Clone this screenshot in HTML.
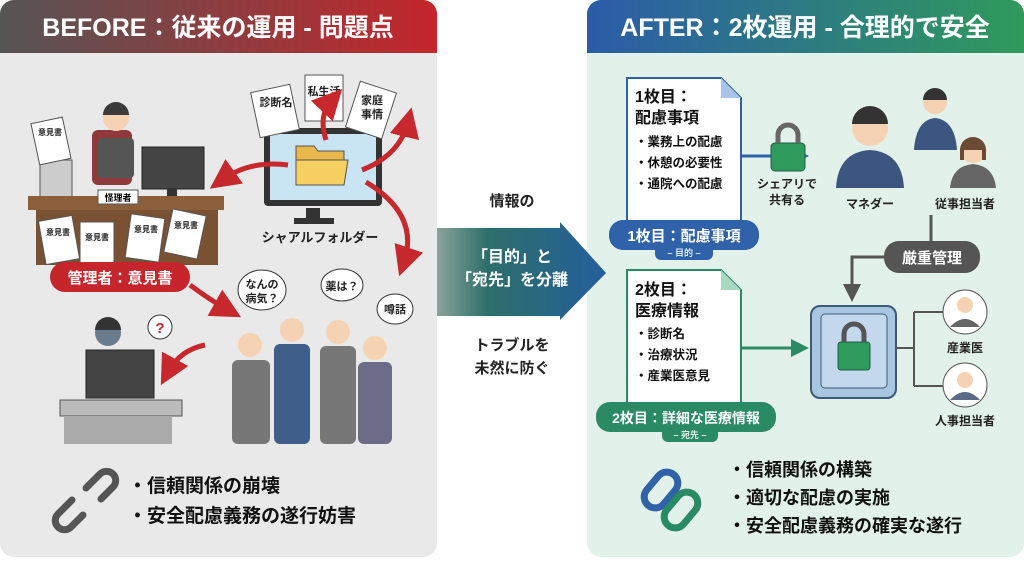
<!DOCTYPE html>
<html><head><meta charset="utf-8"><style>
*{margin:0;padding:0}
body{width:1024px;height:559px;overflow:hidden;background:#fff;font-family:"Liberation Sans","Noto Sans CJK JP",sans-serif}
svg text{font-family:"Liberation Sans","Noto Sans CJK JP",sans-serif;font-weight:bold}
</style></head><body>
<svg width="1024" height="559" viewBox="0 0 1024 559" xmlns="http://www.w3.org/2000/svg">
<defs>
<linearGradient id="gl" x1="0" x2="1"><stop offset="0" stop-color="#555"/><stop offset="1" stop-color="#c4262b"/></linearGradient>
<linearGradient id="gr" x1="0" x2="1"><stop offset="0" stop-color="#2b5ca8"/><stop offset="1" stop-color="#2f9a5c"/></linearGradient>
<linearGradient id="ga" x1="0" x2="1"><stop offset="0" stop-color="#8aa39a"/><stop offset="0.3" stop-color="#2e6e6a"/><stop offset="1" stop-color="#245f9c"/></linearGradient>
<marker id="ar" markerWidth="6" markerHeight="6" refX="3" refY="3" orient="auto"><path d="M0,0L6,3L0,6z" fill="#c7282d"/></marker>
<marker id="ab" markerWidth="6" markerHeight="6" refX="3" refY="3" orient="auto"><path d="M0,0L6,3L0,6z" fill="#2f62a8"/></marker>
<marker id="ag" markerWidth="6" markerHeight="6" refX="3" refY="3" orient="auto"><path d="M0,0L6,3L0,6z" fill="#2a8a64"/></marker>
<marker id="ay" markerWidth="6" markerHeight="6" refX="3" refY="3" orient="auto"><path d="M0,0L6,3L0,6z" fill="#555"/></marker>
</defs>
<rect x="0" y="0" width="437" height="557" rx="14" fill="#e9e9e9"/>
<path d="M0,14a14,14 0 0 1 14,-14h409a14,14 0 0 1 14,14v39h-437z" fill="url(#gl)"/>
<text x="218" y="36" font-size="25" fill="#fff" text-anchor="middle">BEFORE：従来の運用 - 問題点</text>
<rect x="587" y="0" width="437" height="557" rx="14" fill="#e2f1e9"/>
<path d="M587,14a14,14 0 0 1 14,-14h409a14,14 0 0 1 14,14v39h-437z" fill="url(#gr)"/>
<text x="805" y="36" font-size="25" fill="#fff" text-anchor="middle">AFTER：2枚運用 - 合理的で安全</text>
<path d="M437,228H560V222L606,273L560,320V316H437z" fill="url(#ga)"/>
<text x="512" y="206" font-size="15" text-anchor="middle" fill="#222">情報の</text>
<text x="512" y="262" font-size="16" text-anchor="middle" fill="#fff">「目的」と</text>
<text x="512" y="285" font-size="16" text-anchor="middle" fill="#fff">「宛先」を分離</text>
<text x="512" y="350" font-size="15" text-anchor="middle" fill="#222">トラブルを</text>
<text x="512" y="373" font-size="15" text-anchor="middle" fill="#222">未然に防ぐ</text>

<rect x="92" y="130" width="40" height="55" fill="#8e3a3a" rx="6"/>
<circle cx="116" cy="118" r="13" fill="#f5d2b3"/><path d="M103,115a13,13 0 0 1 26,0z" fill="#3a3a3a"/>
<rect x="98" y="138" width="36" height="40" fill="#555" rx="4"/>
<rect x="142" y="147" width="62" height="42" fill="#444" stroke="#222"/><rect x="167" y="189" width="10" height="12" fill="#333"/>
<rect x="40" y="160" width="32" height="42" fill="#ccc" stroke="#555"/>
<rect x="28" y="196" width="196" height="14" fill="#8b5e3c"/>
<rect x="36" y="210" width="182" height="55" fill="#7a5233"/>
<rect x="98" y="190" width="40" height="14" fill="#fff" stroke="#555"/><text x="118" y="201" font-size="9" text-anchor="middle">怪理者</text>
<g font-size="9" fill="#222" stroke="#555">
<rect x="35" y="120" width="32" height="42" fill="#fff" transform="rotate(-12 51 141)"/>
<rect x="42" y="218" width="34" height="44" fill="#fff" transform="rotate(-10 59 240)"/>
<rect x="80" y="222" width="34" height="44" fill="#fff"/>
<rect x="128" y="216" width="34" height="44" fill="#fff" transform="rotate(8 145 238)"/>
<rect x="168" y="212" width="34" height="44" fill="#fff" transform="rotate(12 185 234)"/>
</g>
<g font-size="8" fill="#222" text-anchor="middle"><text x="50" y="135">意見書</text><text x="58" y="235">意見書</text><text x="97" y="240">意見書</text><text x="146" y="232">意見書</text><text x="186" y="228">意見書</text></g>
<rect x="50" y="262" width="140" height="30" rx="15" fill="#c4262b"/>
<text x="120" y="283" font-size="15" fill="#fff" text-anchor="middle">管理者：意見書</text>
<rect x="264" y="128" width="118" height="78" rx="4" fill="#333"/>
<rect x="270" y="134" width="106" height="66" fill="#c9e4f2"/>
<rect x="306" y="208" width="14" height="12" fill="#333"/><rect x="294" y="218" width="40" height="6" fill="#333"/>
<path d="M296,146h18l4,5h26v34h-48z" fill="#e8b84a" stroke="#555"/>
<path d="M296,160h52l-4,25h-48z" fill="#f5cf60" stroke="#555"/>
<text x="320" y="242" font-size="13" text-anchor="middle" fill="#222">シャアルフォルダー</text>
<g stroke="#555" fill="#fff"><rect x="255" y="88" width="40" height="46" transform="rotate(-12 275 111)"/><rect x="305" y="75" width="38" height="46"/><rect x="352" y="86" width="38" height="48" transform="rotate(18 371 110)"/></g>
<g font-size="11" text-anchor="middle" fill="#222"><text x="276" y="106">診断名</text><text x="324" y="95">私生活</text><text x="372" y="104">家庭</text><text x="372" y="118">事情</text></g>
<g fill="none" stroke="#c7282d" stroke-width="5" marker-end="url(#ar)">
<path d="M288,165Q250,160 222,180"/><path d="M326,140Q318,115 332,100"/><path d="M362,170Q400,155 408,122"/><path d="M366,182Q420,215 404,262"/><path d="M190,285Q210,300 228,310"/><path d="M205,345Q180,350 168,372"/>
</g>
<circle cx="108" cy="333" r="13" fill="#6a7b8e"/><path d="M95,330a13,13 0 0 1 26,0z" fill="#333"/>
<rect x="86" y="350" width="68" height="48" fill="#444" stroke="#222"/>
<rect x="60" y="400" width="122" height="16" fill="#bbb" stroke="#555"/><rect x="64" y="416" width="108" height="28" fill="#aaa"/>
<circle cx="160" cy="327" r="12" fill="#fff" stroke="#333"/><text x="160" y="333" font-size="15" text-anchor="middle" fill="#c4262b">?</text>
<g fill="#f5d2b3"><circle cx="250" cy="345" r="12"/><circle cx="292" cy="330" r="12"/><circle cx="338" cy="332" r="12"/><circle cx="375" cy="348" r="12"/></g>
<rect x="232" y="360" width="38" height="84" fill="#777" rx="6"/><rect x="274" y="344" width="36" height="100" fill="#3f5f8a" rx="6"/>
<rect x="320" y="346" width="36" height="98" fill="#777" rx="6"/><rect x="358" y="362" width="34" height="82" fill="#6c6c88" rx="6"/>
<g fill="#fff" stroke="#333"><ellipse cx="262" cy="290" rx="24" ry="20"/><ellipse cx="342" cy="285" rx="21" ry="16"/><ellipse cx="395" cy="309" rx="18" ry="15"/></g>
<g font-size="11" text-anchor="middle" fill="#222"><text x="262" y="288">なんの</text><text x="262" y="302">病気？</text><text x="342" y="290">薬は？</text><text x="395" y="313">噂話</text></g>
<g fill="none" stroke="#555" stroke-width="7" stroke-linecap="round"><path d="M86,488l14,-14a9,9 0 0 1 13,13l-12,12"/><path d="M72,500l-14,14a9,9 0 0 0 13,13l12,-12"/></g>
<g font-size="19" fill="#111"><text x="128" y="492">・信頼関係の崩壊</text><text x="128" y="522">・安全配慮義務の遂行妨害</text></g>

<path d="M627,78h94l20,20v138h-114z" fill="#fff" stroke="#2f62a8" stroke-width="2"/><path d="M721,78v20h20z" fill="#a9c4e8"/>
<text x="635" y="102" font-size="16" fill="#111">1枚目：</text><text x="635" y="123" font-size="16" fill="#111">配慮事項</text>
<g font-size="12.5" fill="#111"><text x="635" y="146">・業務上の配慮</text><text x="635" y="167">・休憩の必要性</text><text x="635" y="188">・通院への配慮</text></g>
<rect x="609" y="220" width="150" height="30" rx="14" fill="#2f62a8"/>
<rect x="655" y="244" width="58" height="16" rx="6" fill="#2f62a8"/>
<text x="684" y="241" font-size="15" fill="#fff" text-anchor="middle">1枚目：配慮事項</text>
<text x="684" y="256" font-size="9" fill="#dfe8f5" text-anchor="middle">– 目的 –</text>
<line x1="741" y1="156" x2="800" y2="156" stroke="#2f62a8" stroke-width="3" marker-end="url(#ab)"/>
<rect x="771" y="143" width="34" height="28" rx="4" fill="#2e9a5c" stroke="#1d5f3e"/><path d="M778,143v-8a10,10 0 0 1 20,0v8" fill="none" stroke="#666" stroke-width="5"/>
<text x="787" y="188" font-size="12" fill="#222" text-anchor="middle">シェアリで</text><text x="787" y="204" font-size="12" fill="#222" text-anchor="middle">共有る</text>
<circle cx="870" cy="128" r="18" fill="#f5d2b3"/><path d="M852,124a18,18 0 0 1 36,0z" fill="#333"/>
<path d="M836,188q2,-36 34,-38q32,2 34,38z" fill="#3c5680"/>
<text x="870" y="208" font-size="12" fill="#222" text-anchor="middle">マネダー</text>
<circle cx="935" cy="102" r="12" fill="#f5d2b3"/><path d="M923,100a12,12 0 0 1 24,0z" fill="#333"/><path d="M914,150q2,-30 21,-32q20,2 22,32z" fill="#3c5680"/>
<circle cx="973" cy="150" r="13" fill="#f5d2b3"/><path d="M960,150a13,13 0 0 1 26,0v10h-4v-10h-18v10h-4z" fill="#6b4a33"/><path d="M950,188q2,-22 23,-24q21,2 23,24z" fill="#666"/>
<text x="965" y="208" font-size="12" fill="#222" text-anchor="middle">従事担当者</text>
<path d="M931,215v32" stroke="#555" stroke-width="3"/>
<rect x="884" y="241" width="96" height="32" rx="15" fill="#555"/><text x="932" y="263" font-size="15" fill="#fff" text-anchor="middle">厳重管理</text>
<path d="M884,257h-32v36" fill="none" stroke="#555" stroke-width="3" marker-end="url(#ay)"/>
<path d="M627,270h94l20,20v130h-114z" fill="#fff" stroke="#2a8a64" stroke-width="2"/><path d="M721,270v20h20z" fill="#a8d8be"/>
<text x="635" y="295" font-size="16" fill="#111">2枚目：</text><text x="635" y="316" font-size="16" fill="#111">医療情報</text>
<g font-size="12.5" fill="#111"><text x="635" y="338">・診断名</text><text x="635" y="359">・治療状況</text><text x="635" y="380">・産業医意見</text></g>
<rect x="596" y="402" width="180" height="30" rx="14" fill="#2a8a64"/>
<rect x="662" y="426" width="56" height="16" rx="6" fill="#2a8a64"/>
<text x="686" y="423" font-size="14" fill="#fff" text-anchor="middle">2枚目：詳細な医療情報</text>
<text x="690" y="438" font-size="9" fill="#dff2e7" text-anchor="middle">– 宛先 –</text>
<line x1="741" y1="348" x2="800" y2="348" stroke="#2a8a64" stroke-width="3" marker-end="url(#ag)"/>
<rect x="811" y="306" width="85" height="92" rx="9" fill="#a9c6e0" stroke="#3b5a7a" stroke-width="2"/>
<rect x="821" y="314" width="66" height="74" rx="4" fill="#c3d8ec" stroke="#3b5a7a"/>
<rect x="838" y="342" width="32" height="28" rx="3" fill="#2e9a5c" stroke="#1d5f3e"/><path d="M844,342v-8a10,10 0 0 1 20,0v8" fill="none" stroke="#555" stroke-width="5"/>
<path d="M896,348h18M914,312v74M914,312h30M914,386h30" fill="none" stroke="#555" stroke-width="2"/>
<circle cx="965" cy="312" r="22" fill="#fff" stroke="#555"/><circle cx="965" cy="305" r="8" fill="#f5d2b3"/><path d="M950,327q15,-16 30,0" fill="#666"/>
<circle cx="965" cy="385" r="22" fill="#fff" stroke="#555"/><circle cx="965" cy="380" r="8" fill="#f5d2b3"/><path d="M950,400q15,-16 30,0" fill="#5a6a88"/>
<text x="965" y="352" font-size="12" fill="#222" text-anchor="middle">産業医</text>
<text x="965" y="425" font-size="12" fill="#222" text-anchor="middle">人事担当者</text>
<g fill="none" stroke="#2f62a8" stroke-width="7"><rect x="650" y="470" width="22" height="40" rx="11" transform="rotate(40 661 490)"/></g>
<g fill="none" stroke="#2a8a64" stroke-width="7"><rect x="670" y="490" width="22" height="40" rx="11" transform="rotate(40 681 510)"/></g>
<g font-size="18" fill="#111"><text x="728" y="476">・信頼関係の構築</text><text x="728" y="504">・適切な配慮の実施</text><text x="728" y="532">・安全配慮義務の確実な遂行</text></g>
</svg>
</body></html>
